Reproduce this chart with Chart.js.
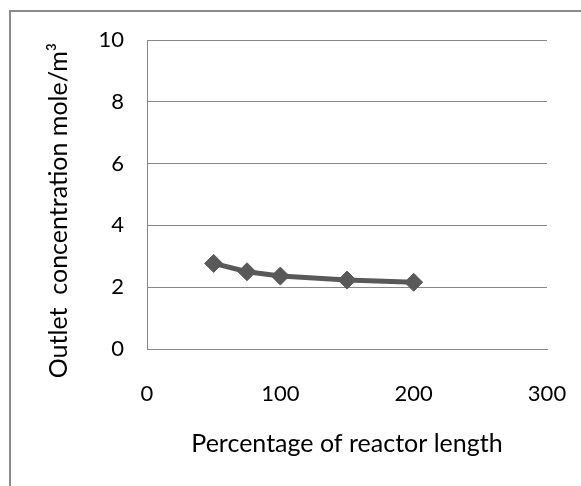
<!DOCTYPE html>
<html>
<head>
<meta charset="utf-8">
<script src="https://cdn.jsdelivr.net/npm/chart.js@4/dist/chart.umd.min.js"></script>
<style>
    html, body { margin: 0; padding: 0; background: #fff; }
    #wrap  { position: relative; width: 581px; height: 486px; overflow: hidden; }
    #frame { position: absolute; left: 9px; top: 10px; width: 600px; height: 500px;
             border-left: 2px solid #8a8a8a; border-top: 2px solid #8a8a8a; }
    #chart { position: absolute; left: 0; top: 0; }
</style>
</head>
<body>
<div id="wrap">
    <div id="frame"></div>
    <canvas id="chart" width="581" height="486"></canvas>
</div>
<script>
// ─── データ ───
const lengthPct     = [50, 75, 100, 150, 200];          // Percentage of reactor length
const concentration = [2.77, 2.50, 2.36, 2.23, 2.16];  // Outlet concentration mole/m3
const xTicks        = [0, 100, 200, 300];
const yTicks        = [0, 2, 4, 6, 8, 10];

const xTitle = 'Percentage of reactor length';
const yTitle = 'Outlet  concentration mole/m\u00B3';

const FONT  = 'Lato, "Open Sans", sans-serif';
const GRID  = '#878787';
const LINE  = '#595959';

// 軸タイトル（位置はチャートエリア基準）
const axisTitles = {
    id: 'axisTitles',
    afterDraw(chart) {
        const { ctx, chartArea: a } = chart;
        ctx.save();
        ctx.fillStyle = '#000';
        ctx.font = `25px ${FONT}`;
        ctx.textAlign = 'center';
        ctx.textBaseline = 'alphabetic';
        ctx.fillText(xTitle, (a.left + a.right) / 2, a.bottom + 103);
        ctx.translate(67, (a.top + a.bottom) / 2 + 16);
        ctx.rotate(-Math.PI / 2);
        ctx.fillText(yTitle, 0, 0);
        ctx.restore();
    },
};

const data = {
    datasets: [{
        data: lengthPct.map((x, i) => ({ x, y: concentration[i] })),
        borderColor: LINE,
        backgroundColor: LINE,
        borderWidth: 5,
        pointStyle: 'rectRot',
        pointRadius: 9,
        pointBorderWidth: 1,
        pointBackgroundColor: LINE,
        pointBorderColor: LINE,
        tension: 0,
    }],
};

// ラベル分の余白は使わず、レイアウト余白だけで位置を決める
const noLabelPadding = (s) => { s.paddingLeft = 0; s.paddingRight = 0; s.paddingTop = 0; s.paddingBottom = 0; };

const options = {
    responsive: false,
    animation: false,
    layout: { padding: { top: 40, right: 34, left: 0, bottom: 0 } },
    plugins: { legend: { display: false }, tooltip: { enabled: false } },
    scales: {
        x: {
            type: 'linear',
            min: xTicks[0],
            max: xTicks[xTicks.length - 1],
            afterBuildTicks: (s) => { s.ticks = xTicks.map(v => ({ value: v })); },
            afterFit: (s) => { s.height = 137; noLabelPadding(s); },
            grid: { display: false, drawTicks: false },
            border: { display: true, color: GRID, width: 1 },
            ticks: { color: '#000', padding: 32, maxRotation: 0, font: { family: FONT, size: 22 } },
        },
        y: {
            min: yTicks[0],
            max: yTicks[yTicks.length - 1],
            afterBuildTicks: (s) => { s.ticks = yTicks.map(v => ({ value: v })); },
            afterFit: (s) => { s.width = 147; noLabelPadding(s); },
            grid: { color: GRID, lineWidth: 1, drawTicks: false },
            border: { display: true, color: GRID, width: 1 },
            ticks: { color: '#000', padding: 23, font: { family: FONT, size: 22 } },
        },
    },
};

new Chart(document.getElementById('chart').getContext('2d'), {
    type: 'line',
    data,
    options,
    plugins: [axisTitles],
});
</script>
</body>
</html>
